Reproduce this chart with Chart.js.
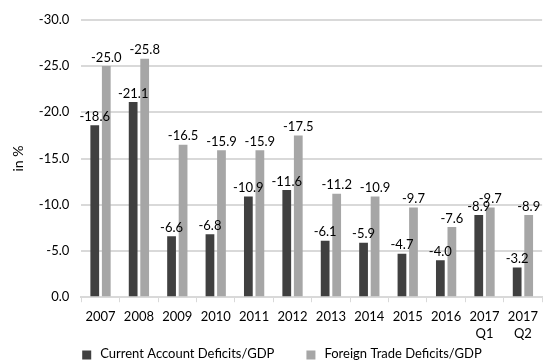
<!DOCTYPE html>
<html>
<head>
<meta charset="utf-8">
<script src="https://cdn.jsdelivr.net/npm/chart.js@4/dist/chart.umd.min.js"></script>
<style>
  html, body { margin: 0; padding: 0; background: #fff; }
  #wrap { width: 544px; height: 362px; position: relative; }
</style>
</head>
<body>
<div id="wrap"><canvas id="chart"></canvas></div>
<script>
const categories = ["2007", "2008", "2009", "2010", "2011", "2012", "2013", "2014", "2015", "2016", ["2017", "Q1"], ["2017", "Q2"]];
const currentAccount = [-18.6, -21.1, -6.6, -6.8, -10.9, -11.6, -6.1, -5.9, -4.7, -4.0, -8.9, -3.2];
const foreignTrade = [-25.0, -25.8, -16.5, -15.9, -15.9, -17.5, -11.2, -10.9, -9.7, -7.6, -9.7, -8.9];

const FONT = "Lato, 'Open Sans', sans-serif";

// value labels above each bar
const barLabels = {
  id: "barLabels",
  afterDatasetsDraw(chart) {
    const ctx = chart.ctx;
    ctx.save();
    ctx.font = "13px " + FONT;
    ctx.fillStyle = "#000";
    ctx.textAlign = "center";
    ctx.textBaseline = "bottom";
    chart.data.datasets.forEach((ds, i) => {
      chart.getDatasetMeta(i).data.forEach((bar, j) => {
        ctx.fillText(ds.data[j].toFixed(1), bar.x, bar.y - 2);
      });
    });
    ctx.restore();
  },
};

// legend drawn by hand so the gap between the two items matches
const bottomLegend = {
  id: "bottomLegend",
  afterDraw(chart) {
    const ctx = chart.ctx;
    const box = 9, gap = 9, itemGap = 32;
    ctx.save();
    ctx.font = "13px " + FONT;
    ctx.textBaseline = "middle";
    ctx.textAlign = "left";
    const items = chart.data.datasets.map((ds) => ({
      text: ds.label,
      color: ds.backgroundColor,
      w: box + gap + ctx.measureText(ds.label).width,
    }));
    const total = items.reduce((s, it) => s + it.w, 0) + itemGap * (items.length - 1);
    let x = 282 - total / 2;
    const y = chart.height - 8;
    items.forEach((it) => {
      ctx.fillStyle = it.color;
      ctx.fillRect(x, y - box / 2 + 1, box, box);
      ctx.fillStyle = "#000";
      ctx.fillText(it.text, x + box + gap, y);
      x += it.w + itemGap;
    });
    ctx.restore();
  },
};

new Chart(document.getElementById("chart"), {
  type: "bar",
  data: {
    labels: categories,
    datasets: [
      {
        label: "Current Account Deficits/GDP",
        data: currentAccount,
        backgroundColor: "#404040",
        categoryPercentage: 0.6,
        barPercentage: 0.76,
      },
      {
        label: "Foreign Trade Deficits/GDP",
        data: foreignTrade,
        backgroundColor: "#a6a6a6",
        categoryPercentage: 0.6,
        barPercentage: 0.76,
      },
    ],
  },
  options: {
    responsive: true,
    maintainAspectRatio: false,
    animation: false,
    layout: { padding: { top: 14, right: 0, left: 10, bottom: 14 } },
    plugins: {
      tooltip: { enabled: false },
      legend: { display: false },
    },
    scales: {
      x: {
        grid: {
          display: true,
          drawOnChartArea: false,
          drawTicks: true,
          tickLength: 5,
          color: "#d9d9d9",
        },
        border: { color: "#d9d9d9", width: 2 },
        ticks: { color: "#000", font: { family: FONT, size: 13, lineHeight: 1.3 }, padding: 6, maxRotation: 0, autoSkip: false },
      },
      y: {
        reverse: true,
        min: -30,
        max: 0,
        ticks: {
          stepSize: 5,
          color: "#000",
          font: { family: FONT, size: 13 },
          padding: 12,
          callback: (v) => v.toFixed(1),
        },
        grid: { color: "#d9d9d9", lineWidth: 2, drawTicks: false },
        border: { display: false },
        title: { display: true, text: "in %", color: "#000", font: { family: FONT, size: 14 }, padding: { top: 0, bottom: 0 } },
      },
    },
  },
  plugins: [barLabels, bottomLegend],
});
</script>
</body>
</html>
